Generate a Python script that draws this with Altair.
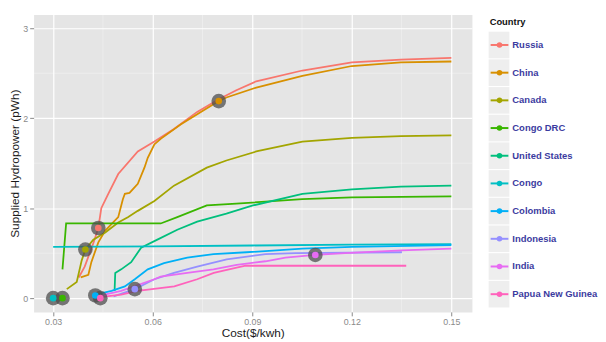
import altair as alt
import pandas as pd

countries = ["Russia", "China", "Canada", "Congo DRC", "United States",
             "Congo", "Colombia", "Indonesia", "India", "Papua New Guinea"]
colors = ["#F8766D", "#D89000", "#A3A500", "#39B600", "#00BF7D",
          "#00BFC4", "#00B0F6", "#9590FF", "#E76BF3", "#FF62BC"]

russia_x = [0.0377, 0.0395, 0.0405, 0.042, 0.0436, 0.0445, 0.0466, 0.0496, 0.0555, 0.0605, 0.0664, 0.0734, 0.0799, 0.0852, 0.0912, 0.1051, 0.12, 0.1348, 0.15]
russia_y = [0.23, 0.35, 0.45, 0.6, 0.78, 1.0, 1.16, 1.38, 1.63, 1.74, 1.88, 2.07, 2.21, 2.31, 2.41, 2.53, 2.62, 2.65, 2.67]

china_x = [0.0383, 0.0406, 0.0415, 0.0436, 0.0457, 0.0496, 0.051, 0.0516, 0.053, 0.0555, 0.0575, 0.0585, 0.0605, 0.0624, 0.0684, 0.075, 0.0799, 0.0822, 0.0912, 0.1051, 0.12, 0.1348, 0.15]
china_y = [0.23, 0.26, 0.4, 0.62, 0.75, 0.9, 1.1, 1.16, 1.17, 1.27, 1.45, 1.56, 1.71, 1.77, 1.93, 2.08, 2.19, 2.23, 2.34, 2.47, 2.58, 2.62, 2.63]

canada_x = [0.0341, 0.0371, 0.0386, 0.0397, 0.0421, 0.0457, 0.0496, 0.0525, 0.0555, 0.0605, 0.0664, 0.0763, 0.0822, 0.0912, 0.1051, 0.12, 0.1348, 0.15]
canada_y = [0.1, 0.18, 0.42, 0.54, 0.65, 0.73, 0.84, 0.9, 0.97, 1.08, 1.25, 1.45, 1.53, 1.63, 1.74, 1.78, 1.8, 1.81]

drc_x = [0.0328, 0.0339, 0.0624, 0.0674, 0.0763, 0.0852, 0.1051, 0.12, 0.15]
drc_y = [0.32, 0.83, 0.83, 0.9, 1.03, 1.05, 1.1, 1.12, 1.13]

us_x = [0.0485, 0.0487, 0.0505, 0.0535, 0.0565, 0.0614, 0.0674, 0.0734, 0.0822, 0.0902, 0.1051, 0.12, 0.1348, 0.15]
us_y = [0.08, 0.28, 0.32, 0.4, 0.56, 0.65, 0.76, 0.85, 0.94, 1.03, 1.16, 1.21, 1.24, 1.25]

congo_x = [0.030, 0.06, 0.09, 0.12, 0.15]
congo_y = [0.57, 0.575, 0.585, 0.595, 0.60]

colombia_x = [0.0427, 0.0476, 0.0516, 0.0546, 0.0585, 0.0634, 0.0704, 0.0783, 0.0883, 0.1051, 0.12, 0.15]
colombia_y = [0.04, 0.08, 0.13, 0.21, 0.32, 0.39, 0.45, 0.49, 0.51, 0.55, 0.57, 0.59]

indonesia_x = [0.0482, 0.0546, 0.0605, 0.0664, 0.0734, 0.0823, 0.094, 0.103, 0.1351]
indonesia_y = [0.02, 0.1, 0.21, 0.28, 0.35, 0.43, 0.49, 0.5, 0.51]

india_x = [0.0445, 0.0505, 0.0605, 0.0624, 0.0704, 0.0783, 0.0853, 0.094, 0.1, 0.109, 0.118, 0.135, 0.15]
india_y = [0.03, 0.08, 0.21, 0.24, 0.28, 0.32, 0.37, 0.41, 0.45, 0.48, 0.5, 0.53, 0.55]

png_x = [0.0442, 0.0505, 0.0555, 0.0665, 0.0734, 0.0784, 0.0853, 0.088, 0.1364]
png_y = [0.01, 0.04, 0.08, 0.13, 0.21, 0.28, 0.34, 0.36, 0.36]

marker_country = ["Congo", "Congo DRC", "Colombia", "Papua New Guinea", "Indonesia",
                  "India", "Canada", "Russia", "China"]
marker_cost = [0.030, 0.0328, 0.0427, 0.0442, 0.0546, 0.109, 0.0397, 0.0436, 0.0799]
marker_supply = [0.0, 0.0, 0.03, 0.0, 0.1, 0.48, 0.54, 0.78, 2.19]

x_ticks = [0.03, 0.06, 0.09, 0.12, 0.15]
y_ticks = [0, 1, 2, 3]
x_minor = [0.045, 0.075, 0.105, 0.135]
y_minor = [0.5, 1.5, 2.5]

curves = {
    "Russia": (russia_x, russia_y), "China": (china_x, china_y),
    "Canada": (canada_x, canada_y), "Congo DRC": (drc_x, drc_y),
    "United States": (us_x, us_y), "Congo": (congo_x, congo_y),
    "Colombia": (colombia_x, colombia_y), "Indonesia": (indonesia_x, indonesia_y),
    "India": (india_x, india_y), "Papua New Guinea": (png_x, png_y),
}
rows = []
for c, (xs, ys) in curves.items():
    for i, (a, b) in enumerate(zip(xs, ys)):
        rows.append({"Country": c, "cost": a, "supply": b, "idx": i})
df = pd.DataFrame(rows)
mk = pd.DataFrame({"Country": marker_country, "cost": marker_cost, "supply": marker_supply})

FONT = "Liberation Sans"
PLOT_H = 302
xscale = alt.Scale(domain=[0.0241, 0.1562], nice=False, zero=False)
yscale = alt.Scale(domain=[-0.153, 3.153], nice=False, zero=False)
xaxis = alt.Axis(title="Cost($/kwh)", values=x_ticks, format=".2f", grid=True)
yaxis = alt.Axis(title="Supplied Hydropower (pWh)", values=y_ticks, format="d", grid=True)
cscale = alt.Scale(domain=countries, range=colors)


def X(f):
    return alt.X(f, scale=xscale, axis=xaxis)


def Y(f):
    return alt.Y(f, scale=yscale, axis=yaxis)


minor_x = alt.Chart(pd.DataFrame({"v": x_minor})).mark_rule(
    color="white", strokeWidth=0.6, opacity=0.55).encode(x=X("v:Q"))
minor_y = alt.Chart(pd.DataFrame({"w": y_minor})).mark_rule(
    color="white", strokeWidth=0.6, opacity=0.55).encode(y=Y("w:Q"))

lines = alt.Chart(df).mark_line(strokeWidth=1.8).encode(
    x=X("cost:Q"), y=Y("supply:Q"),
    color=alt.Color("Country:N", scale=cscale, legend=None),
    order="idx:Q")

halo = alt.Chart(mk).mark_circle(size=220, color="#4d4d4d", opacity=0.75).encode(
    x=X("cost:Q"), y=Y("supply:Q"))
dots = alt.Chart(mk).mark_circle(size=45, opacity=1).encode(
    x=X("cost:Q"), y=Y("supply:Q"),
    color=alt.Color("Country:N", scale=cscale, legend=None))

main = alt.layer(minor_x, minor_y, lines, halo, dots).properties(
    width=445, height=PLOT_H,
    view=alt.ViewBackground(fill="#E5E5E5", stroke="transparent"))

leg_df = pd.DataFrame({"Country": countries})
ly = alt.Y("Country:N", sort=countries,
           scale=alt.Scale(type="point", domain=countries, range=[31, 284], padding=0),
           axis=None)
lc = alt.Color("Country:N", scale=cscale, legend=None)

key_bg = alt.Chart(leg_df).mark_point(
    shape="M-0.78,-1H0.78V1H-0.78Z", size=729, filled=True, color="#EEEEEE", opacity=1
).encode(x=alt.value(15.5), y=ly)
key_line = alt.Chart(leg_df).mark_rule(strokeWidth=2).encode(
    x=alt.value(7), x2=alt.value(25), y=ly, color=lc)
key_dot = alt.Chart(leg_df).mark_circle(size=32, opacity=1).encode(
    x=alt.value(16), y=ly, color=lc)
key_text = alt.Chart(leg_df).mark_text(
    align="left", baseline="middle", fontWeight="bold", fontSize=9.6,
    color="#3B3BA0", font=FONT).encode(x=alt.value(29), y=ly, text="Country:N")
leg_title = alt.Chart(pd.DataFrame({"t": ["Country"]})).mark_text(
    align="left", baseline="middle", fontWeight="bold", fontSize=9.5,
    color="#111111", font=FONT).encode(x=alt.value(6), y=alt.value(8), text="t:N")

legend = alt.layer(key_bg, key_line, key_dot, key_text, leg_title).properties(
    width=110, height=PLOT_H,
    view=alt.ViewBackground(fill="transparent", stroke="transparent"))

chart = alt.hconcat(main, legend, spacing=10).properties(
    padding={"left": 0, "top": 3, "right": 0, "bottom": 0}
).configure(font=FONT).configure_view(stroke="transparent").configure_axis(
    gridColor="white", gridWidth=1.2, domain=False, tickColor="#888888",
    tickSize=4, labelColor="#8a8a8a", labelFontSize=9, labelPadding=2,
    titleFontSize=12, titleFontWeight="normal", titleColor="#1a1a1a",
    titlePadding=1, labelFont=FONT, titleFont=FONT)

chart.save("out.html", embed_options={"renderer": "svg", "actions": False})
